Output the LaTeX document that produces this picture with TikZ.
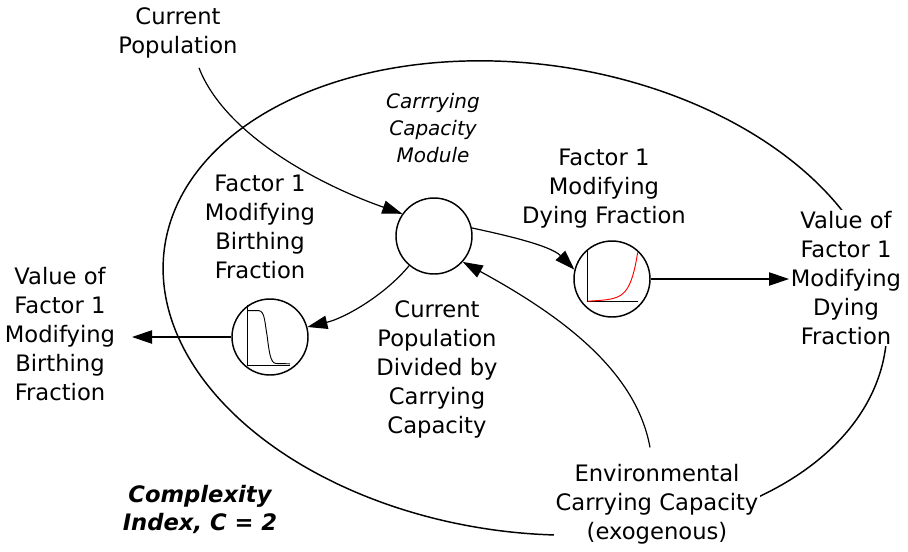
\documentclass[tikz,border=0pt]{standalone}
\usepackage{fontspec}
\setmainfont{DejaVu Sans}
\usetikzlibrary{arrows.meta}
\begin{document}
\begin{tikzpicture}[x=0.75pt,y=-0.75pt,
  lbl/.style={align=center,font=\fontsize{17}{21.75}\selectfont,inner sep=1pt},
  wlbl/.style={lbl,fill=white},
  mod/.style={align=center,font=\fontsize{15}{20.25}\selectfont\itshape,inner sep=1pt},
  cx/.style={align=center,font=\fontsize{17}{21}\selectfont\bfseries\itshape,inner sep=1pt},
  gcirc/.style={circle,draw,line width=1.1pt,minimum size=57pt,inner sep=0pt,fill=white},
  arr/.style={line width=0.9pt,-{Triangle[length=15pt,width=10pt]}},
  axis/.style={line width=0.7pt}
]
\useasboundingbox (0,0) rectangle (908,551);
% module boundary (tilted ellipse, pixel coordinates)
\draw[line width=1.1pt] plot[domain=0:360,samples=240,smooth cycle,variable=\t]
  ({525 + 364*cos(\t)*cos(8) - 234*sin(\t)*sin(8)}, {298 + 364*cos(\t)*sin(8) + 234*sin(\t)*cos(8)});

% texts
\node[lbl] (cp) at (178,33) {Current\\Population};
\node[mod] (ccm) at (433,128) {Carrrying\\Capacity\\Module};
\node[lbl] (fb) at (260,227) {Factor 1\\Modifying\\Birthing\\Fraction};
\node[lbl] (fd) at (604,189) {Factor 1\\Modifying\\Dying Fraction};
\node[wlbl] (vd) at (846,278) {Value of\\Factor 1\\Modifying\\Dying\\Fraction};
\node[wlbl] (vb) at (60,334) {Value of\\Factor 1\\Modifying\\Birthing\\Fraction};
\node[lbl] (cpd) at (437,369) {Current\\Population\\Divided by\\Carrying\\Capacity};
\node[wlbl] (env) at (657,504) {Environmental\\Carrying Capacity\\(exogenous)};
\node[cx] (ci) at (200,509) {Complexity\\Index, C = 2};

% circles
\node[gcirc] (c) at (434,236) {};
\node[gcirc] (l) at (270,337) {};
\node[gcirc] (r) at (612,279) {};

% graph in left circle
\draw[axis] (247,305) -- (247,365) -- (290,365);
\draw[line width=0.7pt] (247.5,310.7) -- (259,310.7) .. controls (265,311) and (265,325) .. (267,335)
  .. controls (269,350) and (270,363) .. (276,363.5) -- (290,363.8);
% graph in right circle
\draw[axis] (587.3,250) -- (587.3,301.7) -- (638.3,301.7);
\draw[red,line width=0.7pt] plot[domain=0:1,samples=60,variable=\u]
  ({587.3+50.4*\u}, {301.2 - 49*(0.05*\u + 0.95*(exp(7*\u)-1)/(exp(7)-1))});

% free ends
\coordinate (la) at (132,337);
\coordinate (ra) at (789,279);

% connectors
\draw[arr] ([shift={(21,8)}]cp.south) .. controls (225,135) and (320,185) .. (c.145);
\draw[arr] (c.230) .. controls (385,295) and (345,318) .. (l.15);
\draw[arr] (c.12) .. controls (500,234) and (550,245) .. (r.166);
\draw[arr] ([shift={(-7,-15)}]env.north) .. controls (636,370) and (560,315) .. (c.318);
\draw[arr] (l.west) -- (la);
\draw[arr] (r.east) -- (ra);
\end{tikzpicture}
\end{document}
